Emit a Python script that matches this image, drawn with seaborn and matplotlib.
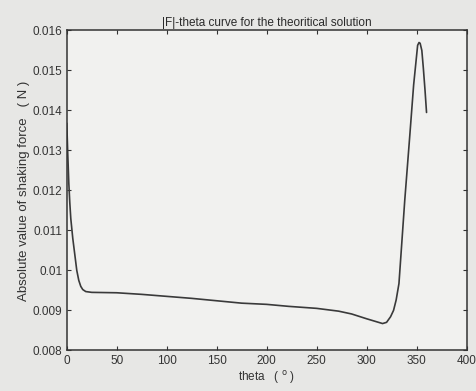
import matplotlib
matplotlib.use("Agg")
import matplotlib.pyplot as plt
import seaborn as sns
import pandas as pd
from matplotlib.ticker import FuncFormatter

theta = [0, 1, 2, 3, 4, 6, 8, 10, 12, 14, 16, 19, 25, 50, 75, 100, 125, 150,
         175, 200, 222, 250, 272, 285, 300, 308, 316, 320, 324, 327, 329.6,
         332.4, 335, 338.2, 343.3, 347.1, 351.1, 352.5, 353.6, 355.3, 356.8,
         358.5, 360]
force = [0.01368, 0.0129, 0.0122, 0.0117, 0.0113, 0.0108, 0.0104, 0.0100,
         0.00975, 0.00960, 0.00952, 0.00947, 0.00945, 0.00944, 0.00940,
         0.00935, 0.00930, 0.00924, 0.00918, 0.00915, 0.00910, 0.00905,
         0.00898, 0.00891, 0.00879, 0.00873, 0.00867, 0.00870, 0.00884,
         0.00900, 0.00926, 0.00967, 0.0106, 0.01175, 0.01339, 0.01464,
         0.01563, 0.01570, 0.01568, 0.01550, 0.01506, 0.01450, 0.01395]

x_ticks = [0, 50, 100, 150, 200, 250, 300, 350, 400]
y_ticks = [0.008, 0.009, 0.010, 0.011, 0.012, 0.013, 0.014, 0.015, 0.016]

title = "|F|-theta curve for the theoritical solution"
x_label = "theta   ( $^{\\mathrm{o}}$ )"
y_label = "Absolute value of shaking force   ( N )"

sns.set_style("ticks")
plt.rcParams['font.family'] = ['Liberation Sans', 'DejaVu Sans']

df = pd.DataFrame({"theta": theta, "force": force})

fig = plt.figure(figsize=(4.77, 3.91), dpi=100, facecolor="#e7e7e5")
ax = fig.add_axes([0.14, 0.104, 0.838, 0.818])
ax.set_facecolor("#f1f1ef")

sns.lineplot(data=df, x="theta", y="force", ax=ax, color="#3a3a3a",
             linewidth=1.2, estimator=None, sort=False)

ax.set_xlim(0, 400)
ax.set_ylim(0.008, 0.016)
ax.set_xticks(x_ticks)
ax.set_yticks(y_ticks)
ax.yaxis.set_major_formatter(FuncFormatter(lambda v, p: f"{v:g}"))
ax.tick_params(direction="in", length=3, width=0.8, top=True, right=True,
               labelsize=8.5, colors="#333333", pad=3)
for s in ax.spines.values():
    s.set_visible(True)
    s.set_color("#333333")
    s.set_linewidth(1.1)

ax.set_title(title, fontsize=8.5, color="#2a2a2a", pad=3)
ax.set_xlabel(x_label, fontsize=8.5, color="#333333", labelpad=2)
ax.set_ylabel(y_label, fontsize=9.5, color="#333333", labelpad=2)

fig.savefig("out.png", dpi=100, facecolor=fig.get_facecolor())
